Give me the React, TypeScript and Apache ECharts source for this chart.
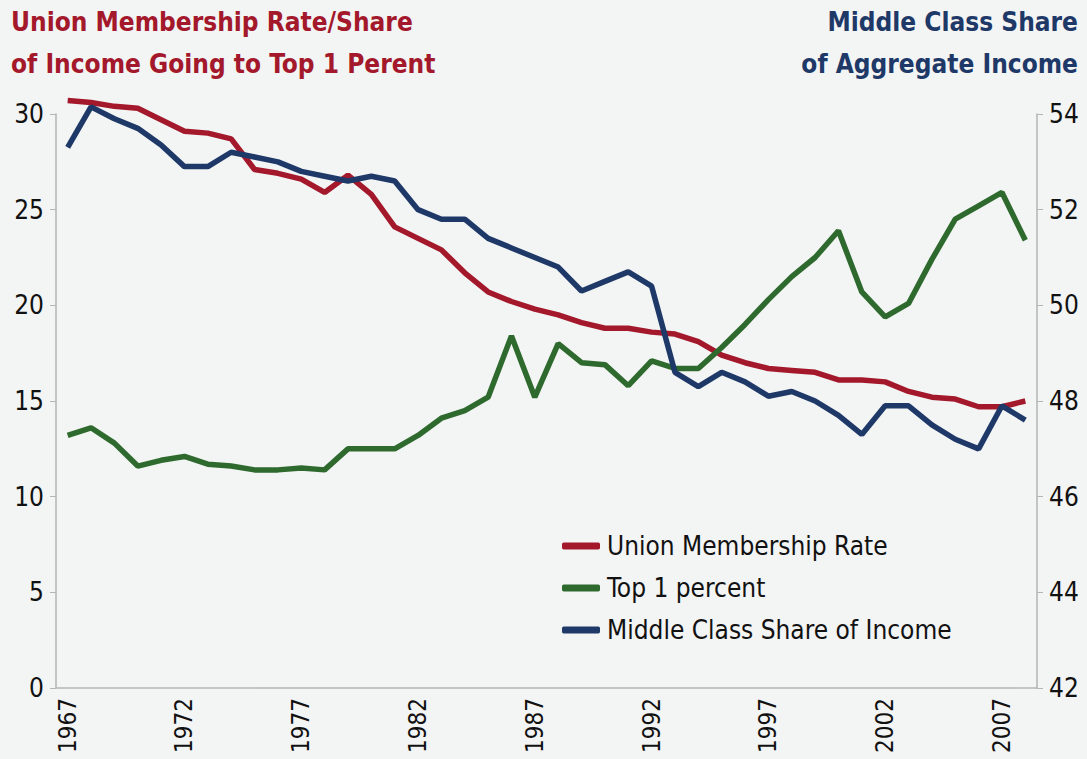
import React, { useEffect, useRef } from "react";
import * as echarts from "echarts";

const years: string[] = [];
for (let y = 1967; y <= 2008; y++) years.push(String(y));

const unionRate = [
  30.7, 30.6, 30.4, 30.3, 29.7, 29.1, 29.0, 28.7, 27.1, 26.9,
  26.6, 25.9, 26.8, 25.8, 24.1, 23.5, 22.9, 21.7, 20.7, 20.2,
  19.8, 19.5, 19.1, 18.8, 18.8, 18.6, 18.5, 18.1, 17.4, 17.0,
  16.7, 16.6, 16.5, 16.1, 16.1, 16.0, 15.5, 15.2, 15.1, 14.7,
  14.7, 15.0,
];

const top1 = [
  13.2, 13.6, 12.8, 11.6, 11.9, 12.1, 11.7, 11.6, 11.4, 11.4,
  11.5, 11.4, 12.5, 12.5, 12.5, 13.2, 14.1, 14.5, 15.2, 18.4,
  15.2, 18.0, 17.0, 16.9, 15.8, 17.1, 16.7, 16.7, 17.8, 19.0,
  20.3, 21.5, 22.5, 23.9, 20.7, 19.4, 20.1, 22.4, 24.5, 25.2,
  25.9, 23.4,
];

const middleClass = [
  53.3, 54.15, 53.9, 53.7, 53.35, 52.9, 52.9, 53.2, 53.1, 53.0,
  52.8, 52.7, 52.6, 52.7, 52.6, 52.0, 51.8, 51.8, 51.4, 51.2,
  51.0, 50.8, 50.3, 50.5, 50.7, 50.4, 48.6, 48.3, 48.6, 48.4,
  48.1, 48.2, 48.0, 47.7, 47.3, 47.9, 47.9, 47.5, 47.2, 47.0,
  47.9, 47.6,
];

const leftTitle = ["Union Membership Rate/Share", "of Income Going to Top 1 Perent"];
const rightTitle = ["Middle Class Share", "of Aggregate Income"];

const RED = "#a3182b";
const GREEN = "#2e6a2d";
const BLUE = "#1e3968";
const FONT = "'DejaVu Sans Condensed', 'Liberation Sans Narrow', 'Open Sans', sans-serif";

export default function App() {
  const ref = useRef<HTMLDivElement>(null);
  useEffect(() => {
    if (!ref.current) return;
    const chart = echarts.init(ref.current, undefined, { renderer: "svg" });
    const titleStyle = (color: string, align: string) => ({
      fill: color,
      fontSize: 26,
      fontWeight: "bold",
      fontFamily: FONT,
      textAlign: align,
      textVerticalAlign: "middle",
    });
    chart.setOption({
      animation: false,
      backgroundColor: "#f3f4f4",
      textStyle: { fontFamily: FONT },
      graphic: [
        { type: "text", left: 11, top: 1, style: { ...titleStyle(RED, "left"), text: leftTitle.join("\n"), lineHeight: 42 } },
        { type: "text", right: 9, top: 1, style: { ...titleStyle(BLUE, "right"), text: rightTitle.join("\n"), lineHeight: 42 } },
      ],
      legend: {
        orient: "vertical",
        left: 557,
        top: 527,
        itemWidth: 38,
        itemHeight: 7,
        itemGap: 14,
        icon: "roundRect",
        textStyle: { fontSize: 26, color: "#111", lineHeight: 28, fontFamily: FONT, padding: [0, 0, 0, 2] },
        data: ["Union Membership Rate", "Top 1 percent", "Middle Class Share of Income"],
      },
      grid: { left: 56, right: 50, top: 114, bottom: 71, containLabel: false },
      xAxis: {
        type: "category",
        data: years,
        boundaryGap: true,
        axisLine: { lineStyle: { color: "#b5b5b5", width: 1.5 } },
        axisTick: { interval: 0, length: 6, lineStyle: { color: "#b5b5b5" } },
        axisLabel: { interval: 4, rotate: 90, fontSize: 24, color: "#111", margin: 10, fontFamily: FONT },
      },
      yAxis: [
        {
          type: "value",
          min: 0,
          max: 30,
          interval: 5,
          position: "left",
          splitLine: { show: false },
          axisLine: { show: true, lineStyle: { color: "#b5b5b5", width: 1.5 } },
          axisTick: { show: true, length: 6, lineStyle: { color: "#b5b5b5" } },
          axisLabel: { fontSize: 26, color: "#111", margin: 12, fontFamily: FONT },
        },
        {
          type: "value",
          min: 42,
          max: 54,
          interval: 2,
          position: "right",
          splitLine: { show: false },
          axisLine: { show: true, lineStyle: { color: "#b5b5b5", width: 1.5 } },
          axisTick: { show: true, length: 6, lineStyle: { color: "#b5b5b5" } },
          axisLabel: { fontSize: 26, color: "#111", margin: 12, fontFamily: FONT },
        },
      ],
      series: [
        {
          name: "Union Membership Rate",
          type: "line",
          data: unionRate,
          yAxisIndex: 0,
          symbol: "none",
          clip: false,
          itemStyle: { color: RED },
          lineStyle: { color: RED, width: 5.5 },
        },
        {
          name: "Top 1 percent",
          type: "line",
          data: top1,
          yAxisIndex: 0,
          symbol: "none",
          clip: false,
          itemStyle: { color: GREEN },
          lineStyle: { color: GREEN, width: 5.5 },
        },
        {
          name: "Middle Class Share of Income",
          type: "line",
          data: middleClass,
          yAxisIndex: 1,
          symbol: "none",
          clip: false,
          itemStyle: { color: BLUE },
          lineStyle: { color: BLUE, width: 5.5 },
        },
      ],
    });
    return () => chart.dispose();
  }, []);
  return (
    <div
      ref={ref}
      style={{ position: "absolute", left: 0, top: 0, width: 1087, height: 759 }}
    />
  );
}
